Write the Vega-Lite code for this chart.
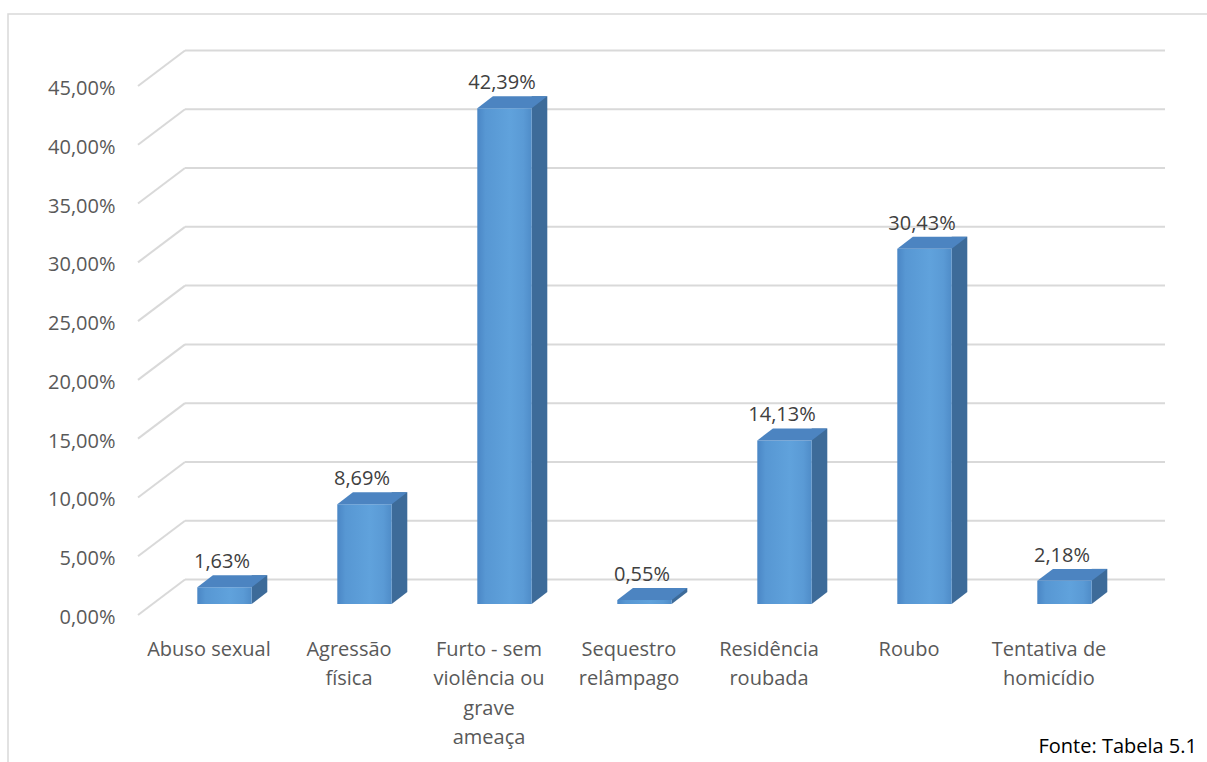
{
  "$schema": "https://vega.github.io/schema/vega-lite/v6.json",
  "width": 1199,
  "height": 748,
  "autosize": "none",
  "padding": {"left": 8, "top": 14, "right": 0, "bottom": 0},
  "background": "white",
  "config": {"view": {"stroke": "#D9D9D9", "strokeWidth": 1.5, "strokeDash": [1199, 1947, 748]}, "font": "Open Sans"},
  "title": {"text": "Fonte: Tabela 5.1", "orient": "bottom", "anchor": "end", "frame": "group", "offset": -25, "dx": -10, "fontSize": 20, "fontWeight": "normal", "color": "#000000", "font": "Open Sans"},
  "datasets": {
    "crimes": [
      {"categoria": "Abuso sexual", "pct": 1.63},
      {"categoria": "Agressão física", "pct": 8.69},
      {"categoria": "Furto - sem violência ou grave ameaça", "pct": 42.39},
      {"categoria": "Sequestro relâmpago", "pct": 0.55},
      {"categoria": "Residência roubada", "pct": 14.13},
      {"categoria": "Roubo", "pct": 30.43},
      {"categoria": "Tentativa de homicídio", "pct": 2.18}
    ],
    "grade": [{"v": 0}, {"v": 5}, {"v": 10}, {"v": 15}, {"v": 20}, {"v": 25}, {"v": 30}, {"v": 35}, {"v": 40}, {"v": 45}]
  },
  "layer": [
    {
      "data": {"name": "grade"},
      "mark": {"type": "rule", "color": "#D9D9D9", "strokeWidth": 2},
      "encoding": {
        "x": {
          "datum": "Abuso sexual", "type": "nominal", "bandPosition": 0, "title": null,
          "scale": {"type": "band", "domain": ["Abuso sexual", "Agressão física", "Furto - sem violência ou grave ameaça", "Sequestro relâmpago", "Residência roubada", "Roubo", "Tentativa de homicídio"], "range": [177, 1157], "paddingInner": 0, "paddingOuter": 0},
          "axis": {
            "title": null,
            "labelExpr": "datum.value == 'Agressão física' ? ['Agressão','física'] : datum.value == 'Furto - sem violência ou grave ameaça' ? ['Furto - sem','violência ou','grave','ameaça'] : datum.value == 'Sequestro relâmpago' ? ['Sequestro','relâmpago'] : datum.value == 'Residência roubada' ? ['Residência','roubada'] : datum.value == 'Tentativa de homicídio' ? ['Tentativa de','homicídio'] : datum.value",
            "domain": false, "ticks": false, "tickSize": 0, "grid": false,
            "labelPadding": 0, "offset": -123, "labelOffset": -46,
            "labelAlign": "center", "labelBaseline": "top", "labelAngle": 0,
            "labelFontSize": 20, "labelLineHeight": 29.5, "labelColor": "#595959",
            "labelFont": "Open Sans", "labelLimit": 400, "labelOverlap": false
          }
        },
        "x2": {"datum": "Tentativa de homicídio", "bandPosition": 1},
        "y": {
          "field": "v", "type": "quantitative", "title": null,
          "scale": {"domain": [0, 45], "range": [565.5, 36.5], "nice": false, "zero": true},
          "axis": {
            "title": null,
            "values": [0, 5, 10, 15, 20, 25, 30, 35, 40, 45],
            "labelExpr": "replace(format(datum.value, '.2f'), '.', ',') + '%'",
            "domain": false, "ticks": false, "tickSize": 0, "grid": false,
            "labelPadding": 0, "offset": -107, "labelOffset": 38,
            "labelBaseline": "middle", "labelFontSize": 20, "labelColor": "#595959",
            "labelFont": "Open Sans", "labelOverlap": false, "labelFlush": false
          }
        },
        "y2": {"field": "v"}
      }
    },
    {
      "data": {"name": "grade"},
      "mark": {"type": "rule", "color": "#D9D9D9", "strokeWidth": 2, "xOffset": -47, "yOffset": 35.5, "x2Offset": 0, "y2Offset": 0},
      "encoding": {
        "x": {"datum": "Abuso sexual", "type": "nominal", "bandPosition": 0, "title": null},
        "x2": {"datum": "Abuso sexual", "bandPosition": 0},
        "y": {"field": "v", "type": "quantitative", "title": null},
        "y2": {"field": "v"}
      }
    },
    {
      "data": {"name": "crimes"},
      "mark": {"type": "bar", "width": 15.6, "xOffset": 4.5, "yOffset": 15, "y2Offset": 12.5, "color": "#3D6B99"},
      "encoding": {
        "x": {"field": "categoria", "type": "nominal", "title": null},
        "y": {"field": "pct", "type": "quantitative", "title": null},
        "y2": {"datum": 0}
      }
    },
    {
      "data": {"name": "crimes"},
      "mark": {"type": "point", "shape": "M -1 -0.769 L -1 0.769 L 1 -0.769 Z", "size": 243, "filled": true, "opacity": 1, "strokeWidth": 0, "color": "#3D6B99", "xOffset": 4.5, "yOffset": 18.5},
      "encoding": {
        "x": {"field": "categoria", "type": "nominal", "title": null},
        "y": {"datum": 0, "type": "quantitative"}
      }
    },
    {
      "data": {"name": "crimes"},
      "mark": {
        "type": "bar", "width": 54.4, "xOffset": -30.5, "yOffset": 27, "y2Offset": 24.5,
        "fill": {"gradient": "linear", "x1": 0, "y1": 0, "x2": 1, "y2": 0, "stops": [
          {"offset": 0, "color": "#4A86C5"},
          {"offset": 0.15, "color": "#5797D3"},
          {"offset": 0.6, "color": "#60A2DC"},
          {"offset": 0.85, "color": "#5A9AD5"},
          {"offset": 1, "color": "#4F8CC8"}
        ]}
      },
      "encoding": {
        "x": {"field": "categoria", "type": "nominal", "title": null},
        "y": {"field": "pct", "type": "quantitative", "title": null},
        "y2": {"datum": 0}
      }
    },
    {
      "data": {"name": "crimes"},
      "mark": {"type": "point", "shape": "M -1 0.171 L 0.554 0.171 L 1 -0.171 L -0.554 -0.171 Z", "size": 4900, "filled": true, "opacity": 1, "strokeWidth": 0, "color": "#4C84C1", "xOffset": -22.7, "yOffset": 21},
      "encoding": {
        "x": {"field": "categoria", "type": "nominal", "title": null},
        "y": {"field": "pct", "type": "quantitative", "title": null}
      }
    },
    {
      "data": {"name": "crimes"},
      "mark": {"type": "text", "xOffset": -33, "yOffset": 2, "baseline": "middle", "align": "center", "fontSize": 20, "font": "Open Sans", "color": "#404040",
        "text": {"expr": "replace(format(datum.pct, '.2f'), '.', ',') + '%'"}},
      "encoding": {
        "x": {"field": "categoria", "type": "nominal", "title": null},
        "y": {"field": "pct", "type": "quantitative", "title": null}
      }
    }
  ]
}
